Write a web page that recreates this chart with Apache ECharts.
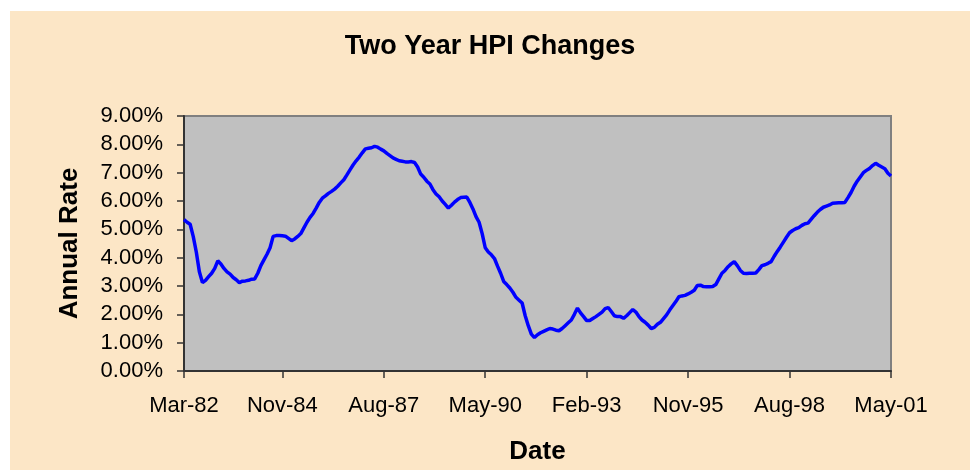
<!DOCTYPE html>
<html>
<head>
<meta charset="utf-8">
<script src="https://cdn.jsdelivr.net/npm/echarts@6/dist/echarts.min.js"></script>
<style>
  html, body { margin: 0; padding: 0; background: #ffffff; }
  #paper { position: absolute; left: 10px; top: 11px; width: 960px; height: 459px; background: #fce6c6; }
  #chart { position: absolute; left: 0; top: 0; width: 970px; height: 470px; }
</style>
</head>
<body>
<div id="paper"></div>
<div id="chart"></div>
<script>
// monthly series, Mar-82 .. May-01 (annual rate, percent)
const rates = [
  5.34, 5.25, 5.18, 4.75, 4.20, 3.50, 3.12, 3.20, 3.33, 3.45, 3.62, 3.89,
  3.78, 3.62, 3.50, 3.42, 3.30, 3.22, 3.12, 3.17, 3.18, 3.20, 3.24, 3.25,
  3.45, 3.72, 3.92, 4.12, 4.35, 4.75, 4.78, 4.78, 4.77, 4.76, 4.68, 4.60,
  4.66, 4.75, 4.85, 5.05, 5.25, 5.42, 5.56, 5.75, 5.95, 6.10, 6.18, 6.27,
  6.34, 6.42, 6.52, 6.64, 6.75, 6.92, 7.10, 7.27, 7.42, 7.55, 7.70, 7.84,
  7.86, 7.88, 7.93, 7.90, 7.83, 7.77, 7.68, 7.60, 7.52, 7.47, 7.42, 7.40,
  7.38, 7.38, 7.39, 7.36, 7.20, 6.95, 6.84, 6.70, 6.60, 6.40, 6.25, 6.15,
  6.00, 5.88, 5.75, 5.85, 5.96, 6.05, 6.12, 6.13, 6.14, 5.95, 5.72, 5.45,
  5.25, 4.85, 4.35, 4.20, 4.10, 3.97, 3.70, 3.45, 3.16, 3.05, 2.93, 2.78,
  2.60, 2.50, 2.40, 1.95, 1.60, 1.30, 1.18, 1.28, 1.35, 1.40, 1.45, 1.50,
  1.48, 1.44, 1.42, 1.50, 1.60, 1.70, 1.80, 2.00, 2.22, 2.05, 1.92, 1.78,
  1.78, 1.85, 1.92, 2.00, 2.08, 2.20, 2.24, 2.10, 1.95, 1.92, 1.92, 1.86,
  1.95, 2.06, 2.17, 2.08, 1.92, 1.80, 1.72, 1.62, 1.50, 1.54, 1.65, 1.72,
  1.85, 1.98, 2.15, 2.30, 2.45, 2.62, 2.65, 2.67, 2.72, 2.78, 2.85, 3.02,
  3.03, 2.98, 2.97, 2.97, 2.98, 3.05, 3.25, 3.45, 3.55, 3.68, 3.78, 3.86,
  3.72, 3.55, 3.45, 3.44, 3.45, 3.45, 3.46, 3.58, 3.72, 3.75, 3.80, 3.86,
  4.05, 4.22, 4.38, 4.55, 4.72, 4.88, 4.96, 5.02, 5.06, 5.14, 5.20, 5.22,
  5.35, 5.48, 5.60, 5.70, 5.78, 5.82, 5.86, 5.92, 5.93, 5.94, 5.94, 5.95,
  6.12, 6.30, 6.52, 6.70, 6.85, 7.00, 7.08, 7.15, 7.25, 7.33, 7.26, 7.20,
  7.14, 6.98, 6.88
]
const tickLabels = ['Mar-82', 'Nov-84', 'Aug-87', 'May-90', 'Feb-93', 'Nov-95', 'Aug-98', 'May-01']

const monthNames = ['Jan', 'Feb', 'Mar', 'Apr', 'May', 'Jun', 'Jul', 'Aug', 'Sep', 'Oct', 'Nov', 'Dec']
const dates = []
for (let i = 0; i < rates.length; i++) {
  const m = 2 + i
  const yy = (82 + Math.floor(m / 12)) % 100
  dates.push(monthNames[m % 12] + '-' + String(yy).padStart(2, '0'))
}
const showTick = (i, name) => tickLabels.includes(name)

const chart = echarts.init(document.getElementById('chart'))
chart.setOption({
  backgroundColor: 'transparent',
  animation: false,
  textStyle: { fontFamily: 'Liberation Sans, Arial, sans-serif' },
  title: {
    text: 'Two Year HPI Changes',
    left: 485,
    top: 28,
    textAlign: 'center',
    textStyle: { fontSize: 27, fontWeight: 'bold', color: '#000' }
  },
  grid: {
    left: 184,
    top: 116,
    width: 707,
    height: 261,
    show: true,
    backgroundColor: '#c0c0c0',
    borderColor: '#808080',
    borderWidth: 2
  },
  xAxis: {
    type: 'category',
    data: dates,
    boundaryGap: false,
    name: 'Date',
    nameLocation: 'middle',
    nameGap: 68,
    nameTextStyle: { fontSize: 26, fontWeight: 'bold', color: '#000' },
    axisLine: { lineStyle: { color: '#333', width: 2 } },
    axisTick: { interval: showTick, length: 7, lineStyle: { color: '#333', width: 1.5 } },
    axisLabel: { interval: showTick, fontSize: 22, color: '#000', margin: 24 },
    splitLine: { show: false }
  },
  yAxis: {
    type: 'value',
    min: 0,
    max: 9,
    interval: 1,
    name: 'Annual Rate',
    nameLocation: 'middle',
    nameGap: 101,
    nameTextStyle: { fontSize: 26, fontWeight: 'bold', color: '#000' },
    axisLine: { show: true, lineStyle: { color: '#333', width: 2 } },
    axisTick: { show: true, length: 7, lineStyle: { color: '#333', width: 1.5 } },
    axisLabel: { fontSize: 22, color: '#000', margin: 21, formatter: v => v.toFixed(2) + '%' },
    splitLine: { show: false }
  },
  series: [{
    type: 'line',
    data: rates,
    showSymbol: false,
    lineStyle: { color: '#0000ff', width: 3.5 }
  }]
})
</script>
</body>
</html>
